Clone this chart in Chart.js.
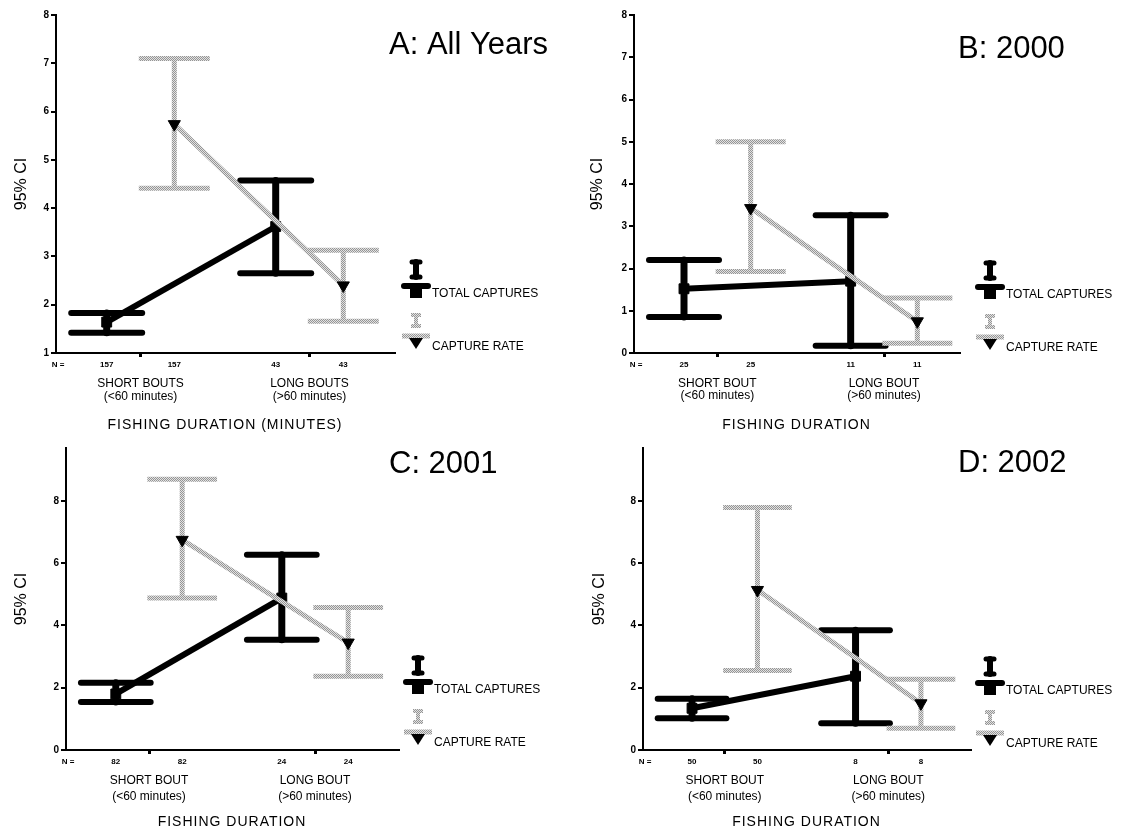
<!DOCTYPE html>
<html>
<head>
<meta charset="utf-8">
<script src="https://cdn.jsdelivr.net/npm/chart.js@4.4.0/dist/chart.umd.min.js"></script>
<style>
  html, body { margin: 0; padding: 0; background: #fff; }
  body { width: 1125px; height: 832px; position: relative; overflow: hidden; }
  canvas { position: absolute; }
</style>
</head>
<body>
<canvas id="chartA" width="562" height="440" style="left:0;top:0"></canvas>
<canvas id="chartB" width="563" height="440" style="left:562px;top:0"></canvas>
<canvas id="chartC" width="562" height="416" style="left:0;top:416px"></canvas>
<canvas id="chartD" width="563" height="416" style="left:562px;top:416px"></canvas>
<script>
const FONT = '"Liberation Sans", Arial, Helvetica, sans-serif';
Chart.defaults.font.family = FONT;

// categories (two lines each) and sample sizes
const boutsAll = [['SHORT BOUTS', '(<60 minutes)'], ['LONG BOUTS', '(>60 minutes)']];
const boutsYear = [['SHORT BOUT', '(<60 minutes)'], ['LONG BOUT', '(>60 minutes)']];
const nA = [157, 43];
const nB = [25, 11];
const nC = [82, 24];
const nD = [50, 8];

// means and 95% CI  [short, long]
const totalA = [1.64, 3.62], totalA_lo = [1.42, 2.65], totalA_hi = [1.83, 4.57];
const rateA  = [5.74, 2.40], rateA_lo  = [4.41, 1.66], rateA_hi  = [7.10, 3.13];

const totalB = [1.52, 1.70], totalB_lo = [0.85, 0.17], totalB_hi = [2.20, 3.26];
const rateB  = [3.43, 0.75], rateB_lo  = [1.93, 0.23], rateB_hi  = [5.00, 1.30];

const totalC = [1.80, 4.88], totalC_lo = [1.54, 3.54], totalC_hi = [2.16, 6.27];
const rateC  = [6.75, 3.45], rateC_lo  = [4.88, 2.37], rateC_hi  = [8.70, 4.58];

const totalD = [1.34, 2.37], totalD_lo = [1.02, 0.86], totalD_hi = [1.65, 3.85];
const rateD  = [5.14, 1.50], rateD_lo  = [2.55, 0.70], rateD_hi  = [7.79, 2.27];

// y tick labels
const yTicksA = [1, 2, 3, 4, 5, 6, 7, 8];
const yTicksB = [0, 1, 2, 3, 4, 5, 6, 7, 8];
const yTicksCD = [0, 2, 4, 6, 8];

const groupTicks = [1, 2];
const shift = 0.2;   // cluster offset of the two series

const panels = [
  { id: 'chartA', title: 'A: All Years', xTitle: 'FISHING DURATION (MINUTES)', cats: boutsAll, n: nA,
    total: totalA, totalLo: totalA_lo, totalHi: totalA_hi, rate: rateA, rateLo: rateA_lo, rateHi: rateA_hi,
    yMin: 1, yMax: 8, yTicks: yTicksA, xMax: 2.5,
    L: { w: 562, h: 440, left: 56, right: 394, top: 15, bottom: 353 },
    titleX: 389, titleY: 45, yTitleX: 22, legX: 416, legT: 294, legR: 347, catGap: 13 },
  { id: 'chartB', title: 'B: 2000', xTitle: 'FISHING DURATION', cats: boutsYear, n: nB,
    total: totalB, totalLo: totalB_lo, totalHi: totalB_hi, rate: rateB, rateLo: rateB_lo, rateHi: rateB_hi,
    yMin: 0, yMax: 8, yTicks: yTicksB, xMax: 2.45,
    L: { w: 563, h: 440, left: 72, right: 397, top: 15, bottom: 353 },
    titleX: 396, titleY: 49, yTitleX: 36, legX: 428, legT: 295, legR: 348, catGap: 12 },
  { id: 'chartC', title: 'C: 2001', xTitle: 'FISHING DURATION', cats: boutsYear, n: nC,
    total: totalC, totalLo: totalC_lo, totalHi: totalC_hi, rate: rateC, rateLo: rateC_lo, rateHi: rateC_hi,
    yMin: 0, yMax: 9.7, yTicks: yTicksCD, xMax: 2.5,
    L: { w: 562, h: 416, left: 66, right: 398, top: 32, bottom: 334 },
    titleX: 389, titleY: 48, yTitleX: 22, legX: 418, legT: 274, legR: 327, catGap: 16 },
  { id: 'chartD', title: 'D: 2002', xTitle: 'FISHING DURATION', cats: boutsYear, n: nD,
    total: totalD, totalLo: totalD_lo, totalHi: totalD_hi, rate: rateD, rateLo: rateD_lo, rateHi: rateD_hi,
    yMin: 0, yMax: 9.7, yTicks: yTicksCD, xMax: 2.5,
    L: { w: 563, h: 416, left: 81, right: 408, top: 32, bottom: 334 },
    titleX: 396, titleY: 47, yTitleX: 38, legX: 428, legT: 275, legR: 328, catGap: 16 }
];

// dotted grey like the scanned print
function greyPattern() {
  const c = document.createElement('canvas');
  c.width = 2; c.height = 2;
  const g = c.getContext('2d');
  g.fillStyle = '#e2e2e2'; g.fillRect(0, 0, 2, 2);
  g.fillStyle = '#959595'; g.fillRect(0, 0, 1, 1); g.fillRect(1, 1, 1, 1);
  return g.createPattern(c, 'repeat');
}
const GREY = greyPattern();

function line(ctx, x1, y1, x2, y2) {
  ctx.beginPath(); ctx.moveTo(x1, y1); ctx.lineTo(x2, y2); ctx.stroke();
}

//////////////////////////
// error bars (95% CI)  //
//////////////////////////
const errorBars = {
  id: 'errorBars',
  beforeDatasetsDraw(chart) {
    const {ctx, scales: {x, y}} = chart;
    const half = (x.getPixelForValue(2) - x.getPixelForValue(1)) * 0.21;
    for (let d = chart.data.datasets.length - 1; d >= 0; d--) {
      const ds = chart.data.datasets[d];
      ds.data.forEach((pt, i) => {
        const px = x.getPixelForValue(pt.x);
        const lo = y.getPixelForValue(ds.ciLow[i]);
        const hi = y.getPixelForValue(ds.ciHigh[i]);
        ctx.save();
        ctx.strokeStyle = ds.borderColor;
        ctx.lineCap = ds.barCap;
        ctx.lineWidth = ds.stemWidth;
        line(ctx, px, lo, px, hi);
        ctx.lineWidth = ds.capWidth;
        line(ctx, px - half, lo, px + half, lo);
        line(ctx, px - half, hi, px + half, hi);
        ctx.restore();
      });
    }
  }
};

///////////////////////////////////////
// titles, N row, categories, legend //
///////////////////////////////////////
const panelText = (p) => ({
  id: 'panelText',
  afterDraw(chart) {
    const {ctx, chartArea: a, scales: {x}} = chart;
    ctx.save();
    ctx.fillStyle = '#000';
    ctx.textBaseline = 'middle';

    ctx.font = '31px ' + FONT;
    ctx.textAlign = 'left';
    ctx.fillText(p.title, p.titleX, p.titleY);

    ctx.save();
    ctx.translate(p.yTitleX, (a.top + a.bottom) / 2);
    ctx.rotate(-Math.PI / 2);
    ctx.textAlign = 'center';
    ctx.font = '16px ' + FONT;
    ctx.fillText('95% CI', 0, 0);
    ctx.restore();

    // N row
    ctx.textAlign = 'center';
    ctx.font = 'bold 8px ' + FONT;
    ctx.fillText('N =', a.left + 2, a.bottom + 12);
    p.n.forEach((v, i) => {
      ctx.fillText(String(v), x.getPixelForValue(groupTicks[i] - shift), a.bottom + 12);
      ctx.fillText(String(v), x.getPixelForValue(groupTicks[i] + shift), a.bottom + 12);
    });

    // category labels
    ctx.font = '12px ' + FONT;
    p.cats.forEach((c, i) => {
      const cx = x.getPixelForValue(groupTicks[i]);
      ctx.fillText(c[0], cx, a.bottom + 31);
      ctx.fillText(c[1], cx, a.bottom + 31 + p.catGap);
    });

    ctx.font = '14px ' + FONT;
    ctx.letterSpacing = '1px';
    ctx.fillText(p.xTitle, (a.left + a.right) / 2, a.bottom + 72);
    ctx.letterSpacing = '0px';

    // legend
    const gx = p.legX, t = p.legT, r = p.legR;
    ctx.strokeStyle = '#000';
    ctx.lineCap = 'round';
    ctx.lineWidth = 6; line(ctx, gx, t - 32, gx, t - 17);
    ctx.lineWidth = 5; line(ctx, gx - 4, t - 32, gx + 4, t - 32); line(ctx, gx - 4, t - 17, gx + 4, t - 17);
    ctx.lineWidth = 6; line(ctx, gx - 12, t - 8, gx + 12, t - 8);
    ctx.fillRect(gx - 6, t - 9, 12, 13);

    ctx.strokeStyle = GREY;
    ctx.lineCap = 'butt';
    ctx.lineWidth = 4; line(ctx, gx, r - 33, gx, r - 20);
    line(ctx, gx - 5, r - 32, gx + 5, r - 32); line(ctx, gx - 5, r - 21, gx + 5, r - 21);
    ctx.lineWidth = 5; line(ctx, gx - 14, r - 11, gx + 14, r - 11);
    ctx.beginPath();
    ctx.moveTo(gx - 7, r - 9); ctx.lineTo(gx + 7, r - 9); ctx.lineTo(gx, r + 2); ctx.closePath();
    ctx.fill();

    ctx.textAlign = 'left';
    ctx.font = '12px ' + FONT;
    ctx.fillText('TOTAL CAPTURES', gx + 16, t);
    ctx.fillText('CAPTURE RATE', gx + 16, r);
    ctx.restore();
  }
});

panels.forEach((p) => {
  const L = p.L;
  new Chart(document.getElementById(p.id), {
    type: 'scatter',
    data: {
      datasets: [
        {
          label: 'CAPTURE RATE',
          data: p.rate.map((v, i) => ({x: groupTicks[i] + shift, y: v})),
          ciLow: p.rateLo, ciHigh: p.rateHi,
          showLine: true, borderColor: GREY, borderWidth: 5,
          stemWidth: 5, capWidth: 5, barCap: 'butt',
          pointStyle: 'triangle', rotation: 180, pointRadius: 7,
          pointBackgroundColor: '#000', pointBorderColor: '#000', pointBorderWidth: 1
        },
        {
          label: 'TOTAL CAPTURES',
          data: p.total.map((v, i) => ({x: groupTicks[i] - shift, y: v})),
          ciLow: p.totalLo, ciHigh: p.totalHi,
          showLine: true, borderColor: '#000', borderWidth: 6,
          stemWidth: 7, capWidth: 6, barCap: 'round',
          pointStyle: 'rect', pointRadius: 7,
          pointBackgroundColor: '#000', pointBorderColor: '#000', pointBorderWidth: 1
        }
      ]
    },
    options: {
      responsive: false,
      animation: false,
      events: [],
      layout: { padding: { top: L.top, right: L.w - L.right, left: 0, bottom: 0 } },
      plugins: { legend: { display: false }, tooltip: { enabled: false } },
      scales: {
        x: {
          type: 'linear', min: 0.5, max: p.xMax,
          afterBuildTicks: (s) => { s.ticks = groupTicks.map((v) => ({value: v})); },
          afterFit: (s) => { s.height = L.h - L.bottom; },
          border: { color: '#000', width: 2 },
          grid: { drawOnChartArea: false, drawTicks: true, tickLength: 4, color: '#000', lineWidth: 3 },
          ticks: { callback: () => '' }
        },
        y: {
          type: 'linear', min: p.yMin, max: p.yMax,
          afterBuildTicks: (s) => { s.ticks = p.yTicks.map((v) => ({value: v})); },
          afterFit: (s) => { s.width = L.left; },
          border: { color: '#000', width: 2 },
          grid: { drawOnChartArea: false, drawTicks: true, tickLength: 5, color: '#000', lineWidth: 2 },
          ticks: { color: '#000', padding: 2, font: { size: 10, weight: 'bold' } }
        }
      }
    },
    plugins: [errorBars, panelText(p)]
  });
});
</script>
</body>
</html>
